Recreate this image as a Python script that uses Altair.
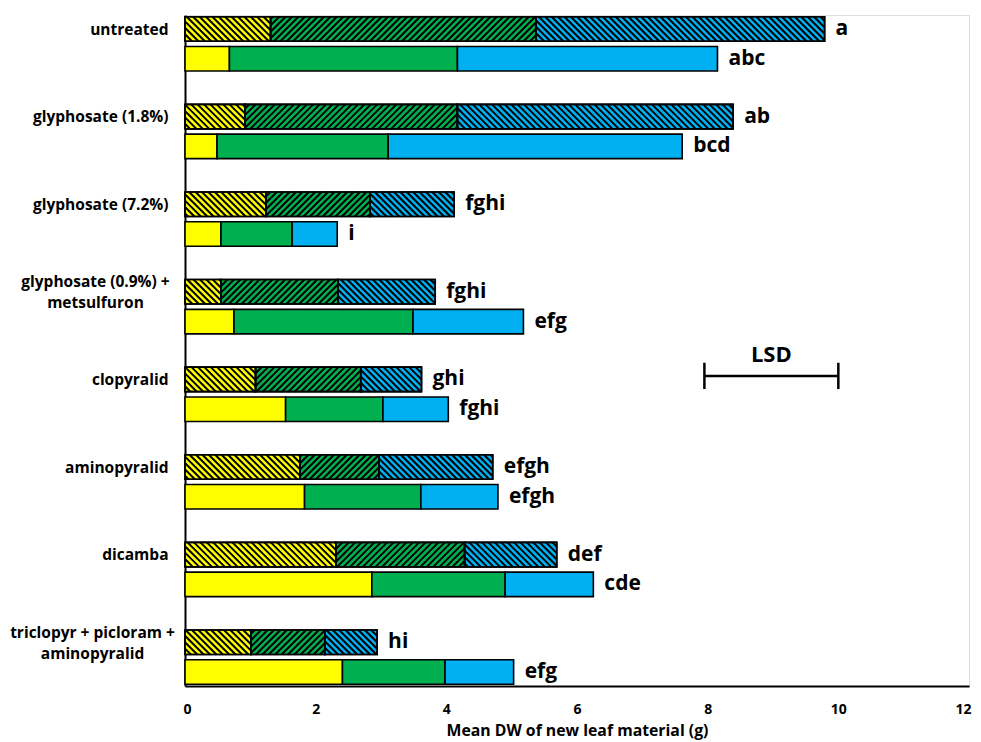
import math
import json
import altair as alt
import pandas as pd

# ---------------- data ----------------
categories = [
    "untreated",
    "glyphosate (1.8%)",
    "glyphosate (7.2%)",
    ["glyphosate (0.9%) +", "metsulfuron"],
    "clopyralid",
    "aminopyralid",
    "dicamba",
    ["triclopyr + picloram +", "aminopyralid"],
]
# hatched bar (upper bar of each pair): component values
hatched_yellow = [1.31, 0.92, 1.24, 0.55, 1.08, 1.76, 2.31, 1.01]
hatched_green = [4.06, 3.25, 1.59, 1.79, 1.61, 1.21, 1.97, 1.13]
hatched_blue = [4.42, 4.22, 1.29, 1.49, 0.93, 1.74, 1.41, 0.80]
# solid bar (lower bar of each pair)
solid_yellow = [0.68, 0.49, 0.55, 0.75, 1.54, 1.83, 2.86, 2.41]
solid_green = [3.49, 2.62, 1.09, 2.74, 1.49, 1.78, 2.04, 1.57]
solid_blue = [3.98, 4.50, 0.69, 1.69, 1.00, 1.18, 1.35, 1.05]
hatched_letters = ["a", "ab", "fghi", "fghi", "ghi", "efgh", "def", "hi"]
solid_letters = ["abc", "bcd", "i", "efg", "fghi", "efgh", "cde", "efg"]
lsd_start = 7.95
lsd_value = 2.05

# ---------------- layout / style ----------------
W, H = 784, 671
Y_MAX = 7.66
X_MAX = 12
H_TOP, H_BOT = 0.02, 0.30   # hatched bar band within a group
S_TOP, S_BOT = 0.36, 0.64   # solid bar band within a group
FONT = "Open Sans"
COLORS = {"yellow": "#FFFF00", "green": "#00B050", "blue": "#00B0F0"}
HATCH_DIR = {"yellow": "back", "green": "fwd", "blue": "back"}
PX_X = W / X_MAX
PX_Y = H / Y_MAX
PERIOD = 6.4

bars = []
letters = []
for i in range(len(categories)):
    for kind, comps, lab, (t, b) in [
        ("hatched", [hatched_yellow[i], hatched_green[i], hatched_blue[i]], hatched_letters[i], (H_TOP, H_BOT)),
        ("solid", [solid_yellow[i], solid_green[i], solid_blue[i]], solid_letters[i], (S_TOP, S_BOT)),
    ]:
        start = 0.0
        for comp, v in zip(["yellow", "green", "blue"], comps):
            bars.append(dict(x0=start, x1=start + v, y0=i + t, y1=i + b,
                             comp=comp, kind=kind))
            start += v
        letters.append(dict(x1=start, yc=i + (t + b) / 2, label=lab))

bars_df = pd.DataFrame(bars)
letters_df = pd.DataFrame(letters)


def hatch(x0, x1, y0, y1, direction):
    X0, X1, Y0, Y1 = x0 * PX_X, x1 * PX_X, y0 * PX_Y, y1 * PX_Y
    segs = []
    if direction == "back":  # y = x - c
        k0 = math.floor((X0 - Y1) / PERIOD)
        k1 = math.ceil((X1 - Y0) / PERIOD)
        for k in range(k0, k1 + 1):
            c = k * PERIOD
            xa, xb = max(X0, Y0 + c), min(X1, Y1 + c)
            if xb - xa > 0.3:
                segs.append(dict(x0=xa / PX_X, x1=xb / PX_X, y0=(xa - c) / PX_Y, y1=(xb - c) / PX_Y))
    else:  # y = c - x
        k0 = math.floor((X0 + Y0) / PERIOD)
        k1 = math.ceil((X1 + Y1) / PERIOD)
        for k in range(k0, k1 + 1):
            c = k * PERIOD
            xa, xb = max(X0, c - Y1), min(X1, c - Y0)
            if xb - xa > 0.3:
                segs.append(dict(x0=xa / PX_X, x1=xb / PX_X, y0=(c - xa) / PX_Y, y1=(c - xb) / PX_Y))
    return segs


hatch_rows = []
for r in bars:
    if r["kind"] == "hatched":
        hatch_rows += hatch(r["x0"], r["x1"], r["y0"], r["y1"], HATCH_DIR[r["comp"]])
hatch_df = pd.DataFrame(hatch_rows)

lsd_y = 4.12
lsd_df = pd.DataFrame([dict(x0=lsd_start, x1=lsd_start + lsd_value, y0=lsd_y, y1=lsd_y)])
lsd_ticks_df = pd.DataFrame([
    dict(x0=lsd_start, x1=lsd_start, y0=lsd_y - 0.15, y1=lsd_y + 0.15),
    dict(x0=lsd_start + lsd_value, x1=lsd_start + lsd_value, y0=lsd_y - 0.15, y1=lsd_y + 0.15),
])
lsd_text_df = pd.DataFrame([dict(x0=lsd_start + lsd_value / 2, y0=lsd_y - 0.24, label="LSD")])

# ---------------- scales / axes ----------------
x_scale = alt.Scale(domain=[0, X_MAX], nice=False, zero=True)
y_scale = alt.Scale(domain=[0, Y_MAX], nice=False, zero=True, reverse=True)
IDX = "round(datum.value - 0.16)"
MULTI = IDX + " == 3 || " + IDX + " == 7"
label_expr = json.dumps(categories) + "[" + IDX + "]"
x_axis = alt.Axis(values=list(range(0, 13, 2)), format="d", ticks=False, grid=False,
                  domainColor="black", domainWidth=2, labelFlush=True, labelFlushOffset=2,
                  labelFont=FONT, labelFontSize=14, labelFontWeight="bold", labelColor="black",
                  labelPadding=16, titleFont=FONT, titleFontSize=15.8, titleFontWeight="bold",
                  titleColor="black", titlePadding=7)
y_axis_dict = dict(
    values=[i + 0.16 for i in range(8)], labelExpr=label_expr, ticks=False,
    grid=False, domainColor="black", domainWidth=2,
    labelFont=FONT, labelFontSize=15.5, labelFontWeight="bold", labelColor="black",
    labelBaseline="middle", labelLineHeight=21,
    # multi-line labels are centred and shifted up half a line
    labelPadding={"condition": [{"test": IDX + " == 3", "value": 90},
                                {"test": IDX + " == 7", "value": 93}], "value": 17},
    labelAlign={"condition": {"test": MULTI, "value": "center"}, "value": "right"},
    labelOffset={"condition": {"test": MULTI, "value": -10}, "value": 0},
)
y_axis = alt.Axis(**y_axis_dict)
XT = "Mean DW of new leaf material (g)"


def X(f):
    return alt.X(f, type="quantitative", scale=x_scale, axis=x_axis, title=XT)


def Y(f):
    return alt.Y(f, type="quantitative", scale=y_scale, axis=y_axis, title=None)


color = alt.Color("comp:N", scale=alt.Scale(domain=list(COLORS), range=list(COLORS.values())),
                  legend=None)

fills = alt.Chart(bars_df).mark_bar(stroke="black", strokeWidth=1.6).encode(
    x=X("x0"), x2="x1", y=Y("y0"), y2="y1", color=color)

hatch_layer = alt.Chart(hatch_df).mark_rule(color="black", strokeWidth=2, strokeCap="butt").encode(
    x=X("x0"), x2="x1", y=Y("y0"), y2="y1")

outline = alt.Chart(bars_df[bars_df.kind == "hatched"]).mark_bar(
    fillOpacity=0, stroke="black", strokeWidth=1.6).encode(
    x=X("x0"), x2="x1", y=Y("y0"), y2="y1")

letter_layer = alt.Chart(letters_df).mark_text(
    align="left", baseline="middle", dx=11, font=FONT, fontSize=21, fontWeight="bold",
    color="black").encode(x=X("x1"), y=Y("yc"), text="label:N")

lsd_line = alt.Chart(lsd_df).mark_rule(color="black", strokeWidth=2.5).encode(
    x=X("x0"), x2="x1", y=Y("y0"))
lsd_ticks = alt.Chart(lsd_ticks_df).mark_rule(color="black", strokeWidth=2.5).encode(
    x=X("x0"), y=Y("y0"), y2="y1")
lsd_text = alt.Chart(lsd_text_df).mark_text(
    align="center", baseline="middle", font=FONT, fontSize=22, fontWeight="bold",
    color="black").encode(x=X("x0"), y=Y("y0"), text="label:N")

chart = alt.layer(fills, hatch_layer, outline, letter_layer, lsd_line, lsd_ticks, lsd_text).properties(
    width=W, height=H,
    autosize=alt.AutoSizeParams(type="none"),
    padding={"left": 177, "top": 7, "right": 4, "bottom": 58},
).configure_view(stroke=None).configure(background="white")

chart.save("out.html", embed_options={"renderer": "svg", "actions": False})
